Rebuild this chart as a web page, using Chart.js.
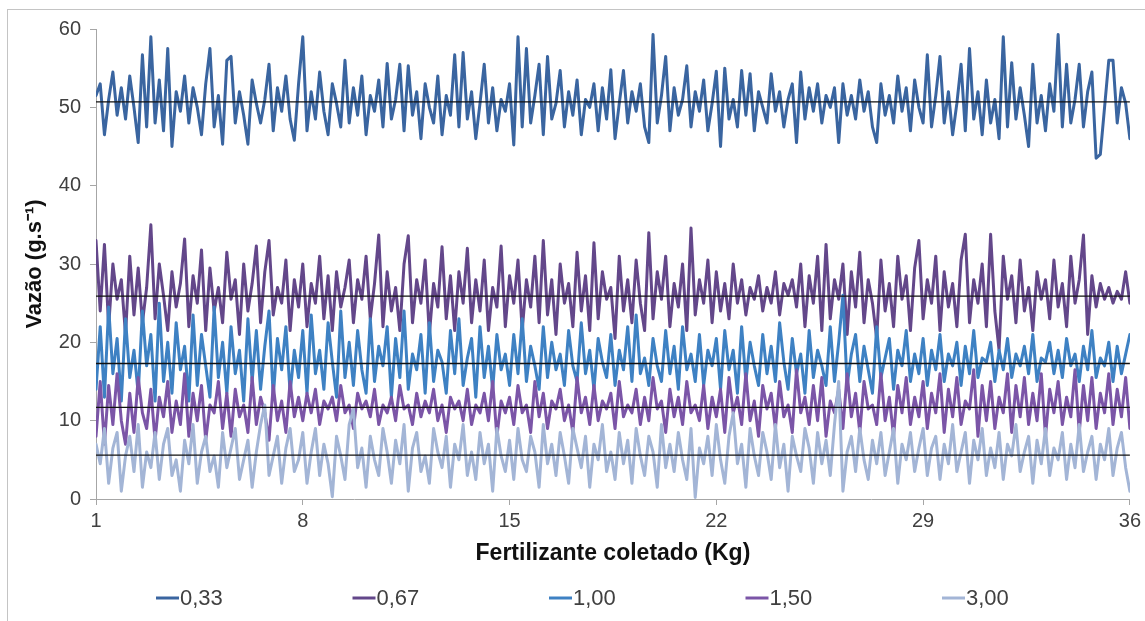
<!DOCTYPE html>
<html>
<head>
<meta charset="utf-8">
<script src="https://cdn.jsdelivr.net/npm/chart.js"></script>
<style>
  html, body { margin: 0; padding: 0; background: #ffffff; }
  #wrap { width: 1145px; height: 621px; }
</style>
</head>
<body>
<div id="wrap"><canvas id="mainGraph" width="1145" height="621"></canvas></div>
<script>
var seriesNames = ['0,33', '0,67', '1,00', '1,50', '3,00'];
var seriesColors = ['#3a65a0', '#63478a', '#3e81c3', '#7b55a7', '#a3b5d6'];
var xTicks = [1, 8, 15, 22, 29, 36];
// horizontal black lines (mean of each series)
var meanValues = [50.7, 25.9, 17.3, 11.7, 5.6];

// vazao, one sample every 1/7 kg
var vazao033 = [
  51.5, 53, 46.5, 51, 54.5, 49, 52.5, 48.5, 54, 50, 45.5, 56.7, 47.5, 59, 48, 53.5, 47, 57.5, 45, 52, 49.5, 54, 48, 52.5, 50, 46.5, 53, 57.5, 47.5, 51.5, 45.3, 56, 56.5, 48, 52, 49, 45.3, 53.5, 50.5, 48, 51, 55.5, 47, 52.5, 49.5, 54, 48.5, 45.8, 53,
  59, 47, 52, 48.5, 54.5, 49.5, 46.5, 53, 50.5, 47.5, 56, 48, 52.5, 49, 54, 46.5, 51.5, 49.5, 53.5, 47.5, 55.6, 48.5, 51, 55.5, 47, 55.3, 49, 52, 46, 53, 50, 48, 54, 46.5, 51.5, 49, 56.7, 47.5, 57, 48.5, 52, 46, 50.5, 55.5, 48, 52.5, 47, 51, 49.5,
  53, 45.2, 59, 47.5, 57.5, 48, 51.5, 55.5, 46.5, 56.5, 48.5, 50.5, 54.7, 47.5, 52, 49, 53.5, 46.5, 51, 50, 53, 47, 52.5, 48.5, 54.8, 46, 50.5, 54.7, 48, 52, 49.5, 53, 47.5, 45.5, 59.3, 48, 51.5, 56.5, 47, 52.5, 49, 51, 55.3, 47.5, 52, 49.5, 53.5, 47, 50.5,
  54.6, 45, 55, 48.5, 51, 47.5, 54.7, 49, 54.3, 47, 52, 50, 48, 54.3, 49.5, 52, 47.5, 51, 53, 45.5, 54.5, 48.5, 52.5, 49.5, 53, 48, 51.5, 50, 52.5, 45.5, 53, 49, 51.5, 48.5, 53.5, 49.5, 52, 47.5, 45.5, 53, 49, 51.5, 48, 54, 49.5, 52.5, 47, 53.5, 50,
  48, 56.7, 47.5, 51.5, 56.5, 48, 52, 46.5, 50.5, 55.5, 47, 57.5, 48.5, 52, 46.5, 53.5, 48, 51, 46, 59, 47.5, 55.7, 48.5, 52.5, 49, 45, 55.5, 48, 51.5, 47, 53, 49.5, 59.3, 47.5, 55.5, 48, 51, 55.5, 47.5, 52, 54.5, 43.5, 44, 50, 56, 56, 48, 52.5, 50.5, 46
];
var vazao067 = [
  33, 24, 32.5, 22, 30, 25.5, 28, 21, 31, 23.5, 29.5, 22.5, 27, 35, 23, 30, 26, 21.5, 29, 24.5, 27.5, 33.2, 22, 28.5, 25, 31.8, 21.5, 29.5, 24, 27, 22.5, 31.5, 25.5, 28, 21, 30, 24, 27.5, 32.3, 22.5, 29, 33, 23.5, 27, 25, 30.5, 21.5, 28, 24.5,
  30, 22, 27.5, 25, 31, 23, 28.5, 21.5, 29, 24.5, 27, 30.5, 22.5, 28, 25.5, 31, 23, 27.5, 33.7, 22, 29, 24, 27, 21.5, 30, 33.6, 22.5, 28, 25, 30.5, 21, 27.5, 24.5, 32.2, 23, 28.5, 21.5, 29, 25, 32, 22.5, 28, 24, 30.5, 21.5, 27, 24.5, 32.3, 22,
  28.5, 25, 30.5, 21.5, 28, 24.5, 31, 22.5, 33, 23.5, 28, 21, 30, 25, 27.5, 22, 31.5, 24, 28.5, 21.5, 32.7, 23, 29, 25.5, 27, 20.5, 31, 24, 28, 22.5, 30.5, 25, 21.5, 34, 23, 29, 25.5, 31, 22, 27.5, 24.5, 30, 21.5, 34.6, 23.5, 28, 25, 30.5, 22.5,
  29, 24, 27.5, 23, 30, 25, 28, 23.5, 27, 25.5, 28.5, 24, 27, 25, 29, 23.5, 27.5, 26, 28, 24.5, 30, 22, 28.5, 25, 31, 21.5, 32.5, 23, 28, 25.5, 30, 21, 29, 24.5, 31.5, 22.5, 28, 25, 20.5, 30.5, 24, 27.5, 22, 31, 25.5, 28.5, 21.5, 29.5, 33,
  23, 28, 25, 31, 21.5, 29, 24.5, 27.5, 22, 30.5, 33.8, 22.5, 28, 25, 30, 22, 33.8, 24, 19, 31, 25.5, 28.5, 22.5, 30.5, 24, 27, 21.5, 29, 25.5, 28, 23, 30.5, 24.5, 27.5, 22, 31, 25, 28, 33.7, 21, 28.5, 24.5, 27.5, 25.5, 27, 25, 26.5, 25.5, 29, 25
];
var vazao100 = [
  14, 22, 13, 24.5, 16, 20.5, 12.5, 23, 15.5, 19, 13.5, 24, 17, 21, 12.5, 25, 15, 20, 13.5, 22.5, 16.5, 19.5, 12.5, 23.5, 14.5, 21, 17, 13, 24.5, 15.5, 20, 13.5, 22, 16, 19, 12.5, 23, 15, 21.5, 14, 19.5, 24, 13, 20.5, 16.5, 22, 13.5, 19, 15.5,
  21.5, 13.5, 23.5, 16, 19, 14, 22.5, 17.5, 13, 24, 15.5, 20, 14.5, 21.5, 16.5, 13.5, 23, 15, 19.5, 17, 22, 13, 20.5, 15.5, 24, 14, 18.5, 16.5, 21, 13.5, 22.5, 15, 19, 17.5, 13.5, 21.5, 16, 23, 14.5, 18, 20.5, 13, 22, 15.5, 19.5, 14, 21, 16.5, 18.5,
  14.5, 21, 16, 23, 15, 19.5, 17, 14, 22, 15.5, 20, 16.5, 18.5, 14.5, 21.5, 17, 15, 22.5, 16, 19, 14, 20.5, 17.5, 15.5, 21, 14.5, 19, 16.5, 22, 15, 23.5, 16, 18, 14.5, 20.5, 17, 15, 21.5, 16, 19.5, 14, 22, 16.5, 18.5, 15, 21, 14.5, 19, 17,
  20.5, 14, 21.5, 16.5, 19, 13.5, 22, 15, 20, 17, 14.5, 21, 16, 19.5, 15, 22.5, 17.5, 14, 20.5, 16, 18.5, 13.5, 21.5, 15.5, 19, 17, 14.5, 22, 15, 20, 26, 14.5, 18.5, 21, 15, 19.5, 16.5, 13.5, 22, 15.5, 18, 20.5, 14, 19, 17, 21.5, 15, 18.5, 16,
  20.5, 14.5, 19, 16.5, 21, 15, 18.5, 17, 20, 14.5, 19.5, 16, 21.5, 15.5, 18, 17.5, 20, 15, 19, 16.5, 20.5, 15.5, 18.5, 17, 19.5, 16, 21, 15, 18, 17.5, 20, 16, 19, 15.5, 20.5, 17, 18.5, 15, 19.5, 16.5, 21.5, 15.5, 18, 17, 20, 15, 19.5, 16, 18.5, 21
];
var vazao150 = [
  8, 15, 7, 14.5, 9.5, 16, 10, 7, 13.5, 8.5, 15.5, 11, 9, 14, 7.5, 13, 10.5, 15, 8.5, 12.5, 9.5, 16, 8, 13.5, 10, 14.5, 7.5, 12, 11, 15, 9, 13.5, 8, 14, 10.5, 12, 8.5, 15.5, 9.5, 13, 11, 7.5, 14.5, 10, 12.5, 8.5, 15, 10.5, 13,
  10, 13.5, 11, 14, 9.5, 12.5, 11.5, 13, 10, 14.5, 11, 12, 9, 13.5, 11.5, 12.5, 10.5, 14, 9.5, 12, 11, 13, 10, 14.5, 11.5, 12, 9.5, 13.5, 10.5, 12.5, 11, 14, 10, 12, 8.5, 13, 11.5, 12.5, 10, 14, 9.5, 12, 11, 13.5, 10, 15, 8, 12.5, 11,
  13, 9.5, 14.5, 11, 12, 8.5, 15, 10.5, 13.5, 9, 12.5, 11.5, 14, 10, 12, 8.5, 15.5, 11, 13, 9.5, 14.5, 10, 12.5, 11.5, 13.5, 9, 15, 10.5, 12, 11, 14, 9.5, 13, 10, 15.5, 11.5, 12.5, 8.5, 14, 10.5, 13, 9.5, 15, 11, 12, 10, 14.5, 9, 13,
  10.5, 14, 8.5, 15.5, 11, 13, 9.5, 16, 10, 12.5, 8, 14.5, 11.5, 13.5, 9, 15, 10.5, 12, 8.5, 16.5, 11, 13, 9.5, 14.5, 10, 15.5, 8, 12.5, 11, 14, 9, 16, 10.5, 13.5, 8.5, 15, 11.5, 12, 9.5, 16, 10, 13, 8, 14.5, 11, 15.5, 9.5, 13, 10.5,
  15, 9, 13.5, 11, 16, 8.5, 14, 10.5, 15.5, 9.5, 12.5, 11.5, 16.5, 8, 14.5, 10, 15, 9, 13, 11, 16, 8.5, 14.5, 10.5, 15.5, 9.5, 13.5, 10, 16, 8, 14, 11, 15, 9.5, 13, 10.5, 16.5, 8.5, 14.5, 10, 15.5, 9, 13.5, 11, 16, 9.5, 14, 10.5, 15.5, 9
];
var vazao300 = [
  7, 4.5, 9, 2, 6.5, 8.5, 1, 5.5, 8, 3.5, 9.5, 1.5, 6, 4, 8.5, 2.5, 7, 9, 3, 5, 1, 7.5, 4.5, 9.5, 2, 6, 8, 3.5, 5.5, 1.5, 8.5, 4, 6.5, 9, 2.5, 5, 7.5, 1.5, 6, 9.5, 12, 3, 5.5, 8, 2, 6.5, 9, 3.5, 5,
  8.5, 2, 6, 9, 3, 7, 4.5, 0.3, 8, 5.5, 2.5, 9.5, 11.5, 4, 6.5, 1.5, 8, 5, 3, 9, 6, 2, 7.5, 4.5, 9.5, 1, 6.5, 8.5, 3.5, 5.5, 2, 9, 6, 4, 8, 1.5, 7, 5, 9.5, 3, 6, 2.5, 8.5, 4.5, 7, 1, 9, 5.5, 3.5,
  7.5, 2.5, 9, 5, 3.5, 8, 6, 1.5, 9.5, 4.5, 7, 3, 8.5, 5.5, 2, 9, 6.5, 4, 8, 1.5, 7, 5, 9.5, 3.5, 6, 2.5, 8.5, 4.5, 7.5, 2, 9, 5.5, 3, 8, 6, 1.5, 9.5, 4, 7, 3.5, 8.5, 5, 2.5, 9, 0.2, 6.5, 4.5, 8, 3,
  9.5, 5, 2, 8, 11, 4.5, 7, 1.5, 9, 5.5, 3, 8.5, 6, 2.5, 9.5, 4, 7, 1, 8, 5.5, 3.5, 9, 6.5, 2, 8.5, 4.5, 7.5, 3, 9.5, 15, 1, 6, 8, 3.5, 9, 5, 2.5, 7.5, 4.5, 8.5, 3, 6, 9, 2, 7, 5, 8.5, 3.5, 6.5,
  9, 3, 6.5, 8, 2.5, 7, 4.5, 9.5, 3.5, 6, 8.5, 2, 7.5, 5, 9, 3, 6.5, 4, 8.5, 2.5, 7, 5.5, 9.5, 3.5, 6, 8, 2, 7.5, 4.5, 9, 3, 6.5, 5, 8.5, 2.5, 7, 4, 9.5, 3.5, 6, 8, 2.5, 7, 5, 9, 3, 6.5, 8.5, 4, 1
];

var allSeries = [vazao033, vazao067, vazao100, vazao150, vazao300];

var samples = [];
for (var i = 0; i < vazao033.length; i++) {
    samples.push(1 + i / 7);
}

var datasets = [];
for (var s = 0; s < allSeries.length; s++) {
    datasets.push({
        label: seriesNames[s],
        data: allSeries[s],
        borderColor: seriesColors[s],
        backgroundColor: seriesColors[s],
        borderWidth: 3,
        borderJoinStyle: 'round',
        borderCapStyle: 'round',
        pointRadius: 0,
        tension: 0,
        order: 10 - s
    });
}
for (var m = 0; m < meanValues.length; m++) {
    datasets.push({
        label: 'media ' + seriesNames[m],
        data: [{x: xTicks[0], y: meanValues[m]}, {x: xTicks[xTicks.length - 1], y: meanValues[m]}],
        borderColor: '#111111',
        borderWidth: 1.3,
        pointRadius: 0,
        order: 0
    });
}

// thin grey frame round the picture
var frame = {
    id: 'frame',
    beforeDraw: function(chart) {
        var c = chart.ctx;
        c.save();
        c.fillStyle = '#ffffff';
        c.fillRect(0, 0, chart.width, chart.height);
        c.strokeStyle = '#c4c4c4';
        c.lineWidth = 1;
        c.strokeRect(7.5, 9.5, chart.width + 20, chart.height + 20);
        c.restore();
    }
};

// legend row like the excel one: short line then the label
var lineLegend = {
    id: 'lineLegend',
    afterDraw: function(chart) {
        var c = chart.ctx;
        var x = 156;
        var y = 598;
        c.save();
        c.font = '22px "Liberation Sans", Arial, sans-serif';
        c.textBaseline = 'middle';
        c.textAlign = 'left';
        for (var i = 0; i < seriesNames.length; i++) {
            c.strokeStyle = seriesColors[i];
            c.lineWidth = 3;
            c.beginPath();
            c.moveTo(x, y);
            c.lineTo(x + 23, y);
            c.stroke();
            c.fillStyle = '#404040';
            c.fillText(seriesNames[i], x + 24, y + 1);
            x += 196.5;
        }
        c.restore();
    }
};

var ctx = document.getElementById('mainGraph').getContext('2d');

var chart = new Chart(ctx, {
    type: 'line',
    data: {
        labels: samples,
        datasets: datasets
    },
    options: {
        responsive: false,
        animation: false,
        layout: {
            padding: {left: 8, right: 15, top: 29, bottom: 54}
        },
        plugins: {
            legend: {display: false},
            tooltip: {enabled: false}
        },
        scales: {
            x: {
                type: 'linear',
                min: 1,
                max: 36,
                afterBuildTicks: function(scale) {
                    scale.ticks = xTicks.map(function(v) { return {value: v}; });
                },
                afterFit: function(scale) {
                    scale.height = 68;
                },
                grid: {drawOnChartArea: false, drawTicks: true, tickLength: 6, color: '#a6a6a6'},
                border: {color: '#a6a6a6'},
                ticks: {
                    autoSkip: false,
                    maxRotation: 0,
                    padding: 4,
                    color: '#404040',
                    font: {family: '"Liberation Sans", Arial, sans-serif', size: 20}
                },
                title: {
                    display: true,
                    text: 'Fertilizante coletado (Kg)',
                    color: '#111111',
                    padding: {top: 0, bottom: 0},
                    font: {family: '"Liberation Sans", Arial, sans-serif', size: 23, weight: 'bold'}
                }
            },
            y: {
                min: 0,
                max: 60,
                afterFit: function(scale) {
                    scale.width = 88;
                },
                grid: {drawOnChartArea: false, drawTicks: true, tickLength: 6, color: '#a6a6a6'},
                border: {color: '#a6a6a6'},
                ticks: {
                    stepSize: 10,
                    padding: 9,
                    color: '#404040',
                    font: {family: '"Liberation Sans", Arial, sans-serif', size: 20}
                },
                title: {
                    display: true,
                    text: 'Vazão (g.s⁻¹)',
                    color: '#111111',
                    padding: {top: 14, bottom: 0},
                    font: {family: '"Liberation Sans", Arial, sans-serif', size: 22, weight: 'bold'}
                }
            }
        }
    },
    plugins: [frame, lineLegend]
});
</script>
</body>
</html>
